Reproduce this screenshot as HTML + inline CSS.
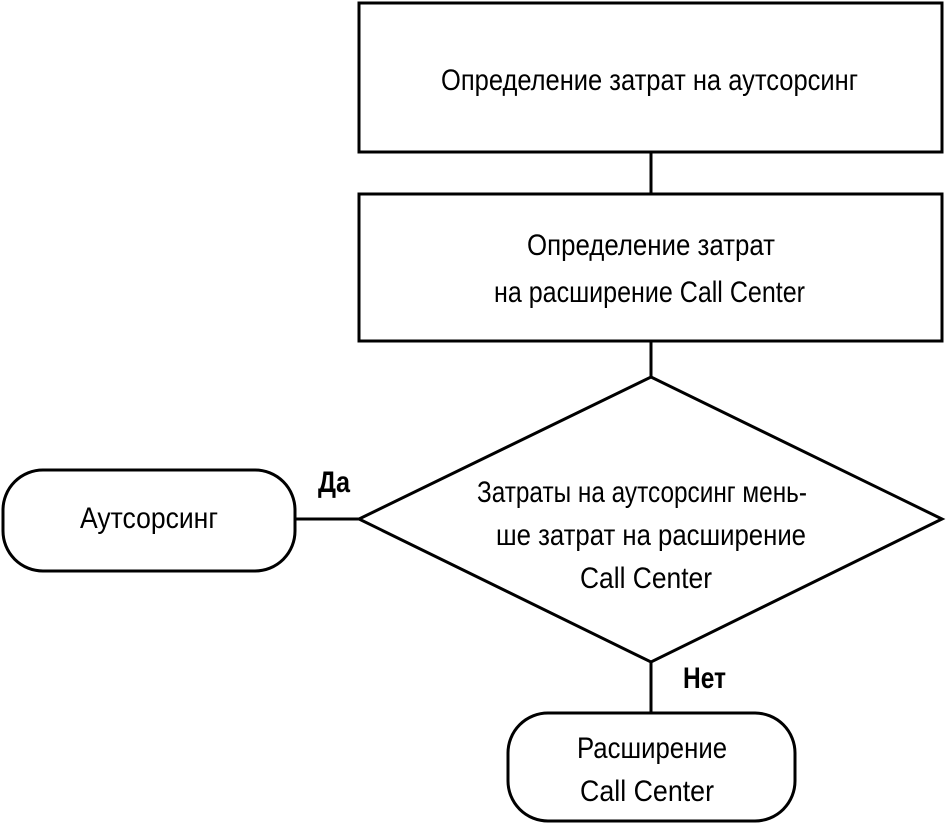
<!DOCTYPE html>
<html><head><meta charset="utf-8"><style>
html,body{margin:0;padding:0;background:#fff;}
svg{display:block;}
text{font-family:"Liberation Sans Narrow","Liberation Sans",sans-serif;font-size:30px;fill:#000;}
</style></head><body>
<svg width="946" height="828" viewBox="0 0 946 828" xmlns="http://www.w3.org/2000/svg">
<g fill="none" stroke="#000" stroke-width="3">
<rect x="359" y="3" width="583" height="149"/>
<rect x="359" y="194" width="583" height="147"/>
<line x1="651" y1="152" x2="651" y2="194"/>
<line x1="651" y1="341" x2="651" y2="377"/>
<polygon points="651,377 942,519 651,662 359,519"/>
<rect x="3" y="470" width="292" height="101" rx="40" ry="40"/>
<line x1="295" y1="519" x2="359" y2="519"/>
<line x1="651" y1="662" x2="651" y2="713"/>
<rect x="508" y="713" width="287" height="108" rx="40" ry="40"/>
</g>
<text x="441" y="90" textLength="417" lengthAdjust="spacingAndGlyphs">Определение затрат на аутсорсинг</text>
<text x="527" y="255" textLength="248" lengthAdjust="spacingAndGlyphs">Определение затрат</text>
<text x="494" y="302" textLength="311" lengthAdjust="spacingAndGlyphs">на расширение Call Center</text>
<text x="477" y="502" textLength="330" lengthAdjust="spacingAndGlyphs">Затраты на аутсорсинг мень-</text>
<text x="496" y="545" textLength="310" lengthAdjust="spacingAndGlyphs">ше затрат на расширение</text>
<text x="580" y="588" textLength="132" lengthAdjust="spacingAndGlyphs">Call Center</text>
<text x="80" y="528" textLength="138" lengthAdjust="spacingAndGlyphs">Аутсорсинг</text>
<text x="577" y="758" textLength="150" lengthAdjust="spacingAndGlyphs">Расширение</text>
<text x="580" y="801" textLength="134" lengthAdjust="spacingAndGlyphs">Call Center</text>
<text x="318" y="492" font-weight="bold" textLength="32" lengthAdjust="spacingAndGlyphs">Да</text>
<text x="683" y="688" font-weight="bold" textLength="43" lengthAdjust="spacingAndGlyphs">Нет</text>
</svg>
</body></html>
